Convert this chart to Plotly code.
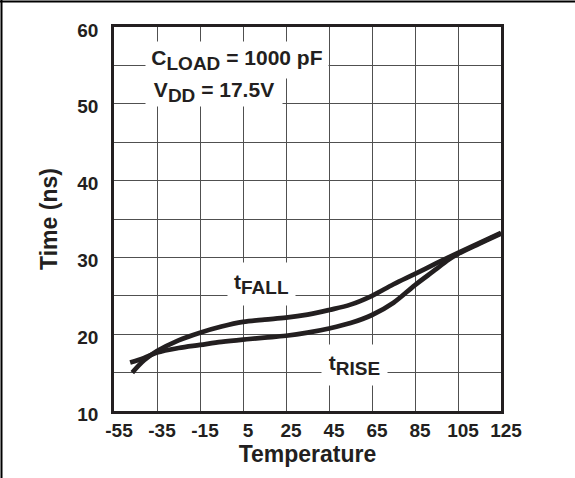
import plotly.graph_objects as go

# Data
temp_fall = [-46.5, -41, -35, -25, -15, -5, 5, 15, 25, 35, 45, 55, 65, 75, 85, 95, 105, 115, 125]
t_fall = [15.0, 16.6, 17.8, 19.2, 20.2, 21.0, 21.6, 21.9, 22.15, 22.55, 23.15, 23.85, 25.0, 26.5, 27.85, 29.25, 30.6, 31.9, 33.2]

temp_rise = [-47.5, -41, -35, -25, -15, -5, 5, 15, 25, 35, 45, 55, 65, 75, 85, 95, 100, 105, 115, 125]
t_rise = [16.3, 16.9, 17.6, 18.2, 18.6, 19.0, 19.3, 19.55, 19.8, 20.2, 20.75, 21.45, 22.5, 24.1, 26.4, 28.5, 29.6, 30.45, 31.8, 33.1]

x_ticks = [-55, -35, -15, 5, 25, 45, 65, 85, 105, 125]
y_ticks = [10, 20, 30, 40, 50, 60]

FONT = "Liberation Sans"
INK = "#231f20"
GRID = "#505050"

fig = go.Figure()
fig.add_trace(go.Scatter(x=temp_rise, y=t_rise, mode="lines",
                         line=dict(color=INK, width=4.7, shape="spline", smoothing=1.0),
                         hoverinfo="skip", showlegend=False))
fig.add_trace(go.Scatter(x=temp_fall, y=t_fall, mode="lines",
                         line=dict(color=INK, width=4.7, shape="spline", smoothing=1.0),
                         hoverinfo="skip", showlegend=False))

SUB = '<sub><span style="font-size:19px">%s</span></sub>'

ann_font = dict(family=FONT, size=21, color=INK, weight="bold")
fig.add_annotation(x=2.2, y=55.7, xref="x", yref="y", showarrow=False,
                   text="C" + (SUB % "LOAD") + " = 1000 pF",
                   font=ann_font, bgcolor="white", width=182, height=36, borderpad=0,
                   xanchor="center", yanchor="middle", align="center")
fig.add_annotation(x=-8.3, y=51.55, xref="x", yref="y", showarrow=False,
                   text="V" + (SUB % "DD") + " = 17.5V",
                   font=ann_font, bgcolor="white", width=136, height=28, borderpad=0,
                   xanchor="center", yanchor="middle", align="center")
fig.add_annotation(x=13.6, y=26.55, xref="x", yref="y", showarrow=False,
                   text="t" + (SUB % "FALL"),
                   font=ann_font, bgcolor="white", width=67, height=42, borderpad=0,
                   xanchor="center", yanchor="middle", align="center")
fig.add_annotation(x=56.9, y=16.0, xref="x", yref="y", showarrow=False,
                   text="t" + (SUB % "RISE"),
                   font=ann_font, bgcolor="white", width=65, height=40, borderpad=0,
                   xanchor="center", yanchor="middle", align="center")

# outer frame (left and top edges of the figure box)
W, H = 575, 478
ml, mr, mt, mb = 114, 74, 27, 67
pw, ph = W - ml - mr, H - mt - mb
def px(xp):
    return (xp - ml) / pw
def py(yp):
    return 1 - (yp - mt) / ph
fig.add_shape(type="line", xref="paper", yref="paper", x0=px(1.5), x1=px(1.5), y0=py(0), y1=py(H),
              line=dict(color="black", width=2))
fig.add_shape(type="line", xref="paper", yref="paper", x0=px(0), x1=px(W), y0=py(1.5), y1=py(1.5),
              line=dict(color="black", width=2))

axis_common = dict(showline=True, mirror=True, linecolor=INK, linewidth=2.5,
                   showgrid=True, gridcolor=GRID, gridwidth=1, zeroline=False,
                   ticks="", tickfont=dict(family=FONT, size=19, color=INK, weight="bold"))

fig.update_xaxes(range=[-55, 125], tickvals=x_ticks, ticktext=[str(v) for v in x_ticks],
                 title=dict(text="Temperature", font=dict(family=FONT, size=23, color=INK, weight="bold"), standoff=4),
                 ticklabelstandoff=0, ticklabelshift=5, **axis_common)
fig.update_yaxes(range=[10, 60], tickvals=y_ticks, ticktext=[str(v) for v in y_ticks],
                 minor=dict(dtick=5, tick0=10, showgrid=True, gridcolor=GRID, gridwidth=1, ticks=""),
                 title=dict(text="Time (ns)", font=dict(family=FONT, size=23, color=INK, weight="bold"), standoff=14),
                 ticklabelstandoff=9, ticklabelshift=3, **axis_common)
fig.update_layout(width=W, height=H, margin=dict(l=ml, r=mr, t=mt, b=mb),
                  paper_bgcolor="white", plot_bgcolor="white",
                  font=dict(family=FONT, color=INK))

fig.write_html("out.html")
